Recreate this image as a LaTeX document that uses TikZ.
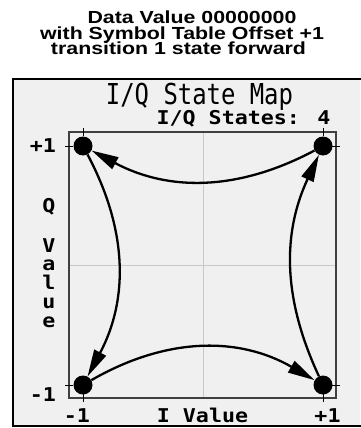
\documentclass[tikz,border=0pt]{standalone}
\usepackage{fontspec}
\setmainfont{Liberation Sans}
\newfontfamily\hdfont{Liberation Sans Bold}[FakeStretch=1.22]
\newfontfamily\lcdbig{DejaVu Sans Mono}[FakeStretch=0.83]
\newfontfamily\lcdsmall{DejaVu Sans Mono Bold}[FakeStretch=1.14]
\usetikzlibrary{arrows.meta}
\definecolor{iqPanel}{HTML}{F0F0F0}
\definecolor{iqGrid}{HTML}{C8C8C8}
\definecolor{iqBox}{HTML}{404040}
\tikzset{
  hdline/.style={font=\hdfont\fontsize{17.5pt}{17.5pt}\selectfont, inner sep=0pt, anchor=base},
  lcdtitle/.style={font=\lcdbig\fontsize{28.8pt}{28.8pt}\selectfont, inner sep=0pt, anchor=base},
  axlbl/.style={font=\lcdsmall\fontsize{19pt}{19pt}\selectfont, inner sep=0pt, anchor=base},
  state/.style={circle, fill=black, minimum size=19pt, inner sep=0pt},
  trans/.style={-{Triangle[length=27pt, width=13pt]}, line width=2.3pt},
  tickmark/.style={line width=1pt},
}

\begin{document}
\begin{tikzpicture}[x=1pt, y=-1pt]
  \useasboundingbox (0,0) rectangle (360,428);

  % heading
  \node[hdline] (hd1) at (192,24)   {Data Value 00000000};
  \node[hdline] (hd2) at (182,39.5) {with Symbol Table Offset +1};
  \node[hdline] (hd3) at (178.5,54.5) {transition 1 state forward};

  % display panel, cut off on the right
  \fill[iqPanel] (13,79) rectangle (360,426);
  \draw[line width=2pt] (362,79) -- (13,79) -- (13,426) -- (362,426);
  \node[lcdtitle] (maptitle) at (199.5,104) {I/Q State Map};
  \node[axlbl] (count) at (243.5,124) {I/Q States: 4};

  % plot area
  \draw[iqGrid, line width=1pt] (203,132) -- (203,398) (69,265) -- (336,265);
  \draw[iqBox, line width=1.2pt] (69,132) rectangle (336,398);
  \foreach \p in {146,385} {
    \draw[tickmark] (65,\p) -- (73,\p) (332,\p) -- (340,\p);
  }
  \foreach \p in {83,323} {
    \draw[tickmark] (\p,128) -- (\p,136) (\p,394) -- (\p,402);
  }

  % axis labels
  \node[axlbl] (qtop)   at (43,152)    {+1};
  \node[axlbl] (qbot)   at (43,401)    {-1};
  \node[axlbl] (ileft)  at (77,422)    {-1};
  \node[axlbl] (iname)  at (202.5,422) {I Value};
  \node[axlbl] (iright) at (327.5,422) {+1};
  \foreach \ch/\yy [count=\k] in {Q/212, V/252, a/270, l/289, u/308, e/327}
    \node[axlbl] (qname\k) at (49,\yy) {\ch};

  % states
  \node[state] (tl) at (83,146) {};
  \node[state] (tr) at (323,146) {};
  \node[state] (bl) at (83,385) {};
  \node[state] (br) at (323,385) {};

  % transitions
  \draw[trans] (tr) to[bend left=28] (tl);
  \draw[trans] (tl) to[bend left=28] (bl);
  \draw[trans] (bl) to[bend left=30] (br);
  \draw[trans] (br) to[bend left=25] (tr);
\end{tikzpicture}
\end{document}
